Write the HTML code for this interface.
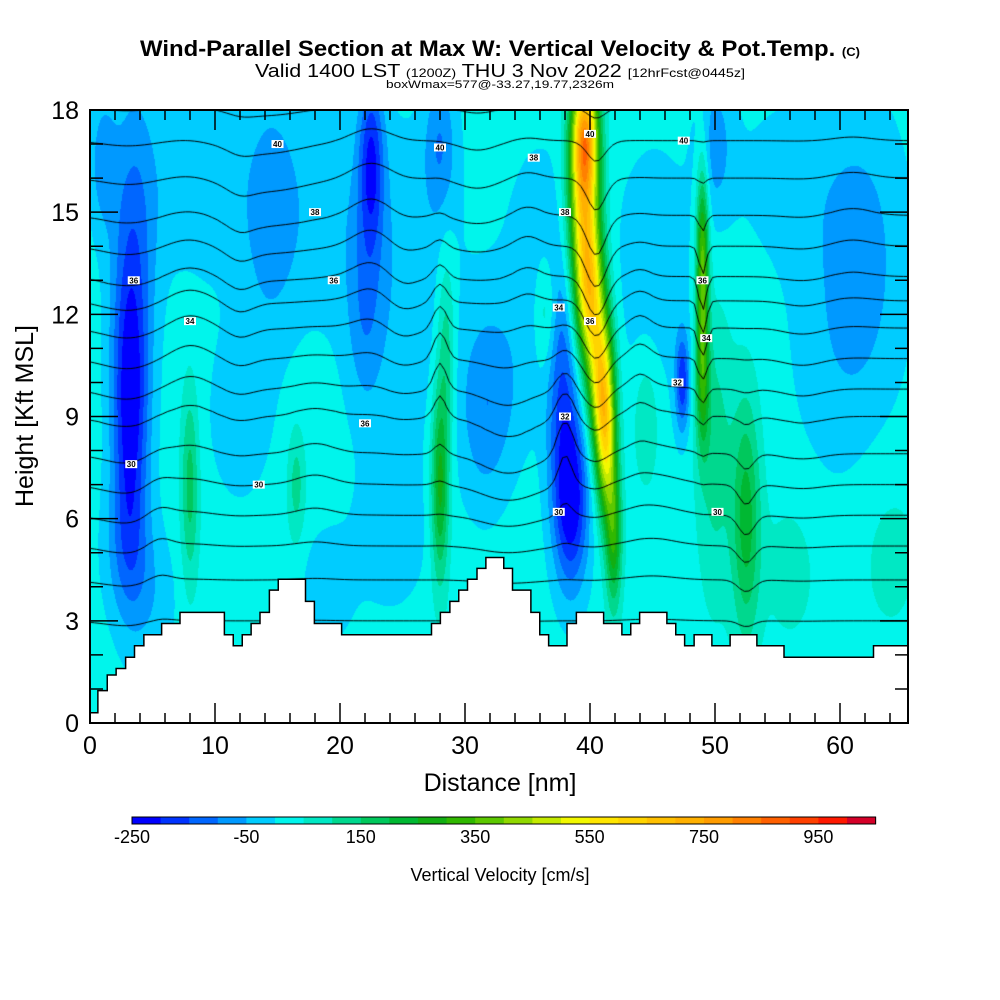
<!DOCTYPE html>
<html><head><meta charset="utf-8">
<style>
html,body{margin:0;padding:0;background:#fff;width:1000px;height:1000px;overflow:hidden;}
#wrap{position:relative;width:1000px;height:1000px;}
canvas,svg{position:absolute;left:0;top:0;}
text{font-family:"Liberation Sans",sans-serif;}
</style></head>
<body>
<div id="wrap">
<canvas id="field" width="1000" height="1000"></canvas>
<svg id="ov" width="1000" height="1000">
  <text x="500" y="56" text-anchor="middle" font-size="22" font-weight="bold" textLength="720" lengthAdjust="spacingAndGlyphs">Wind-Parallel Section at Max W: Vertical Velocity &amp; Pot.Temp. <tspan font-size="12">(C)</tspan></text>
  <text x="500" y="77" text-anchor="middle" font-size="18" textLength="490" lengthAdjust="spacingAndGlyphs">Valid 1400 LST <tspan font-size="12">(1200Z)</tspan> THU 3 Nov 2022 <tspan font-size="12">[12hrFcst@0445z]</tspan></text>
  <text x="500" y="88" text-anchor="middle" font-size="11" textLength="228" lengthAdjust="spacingAndGlyphs">boxWmax=577@-33.27,19.77,2326m</text>
  <g id="axes"></g>
  <text x="500" y="791" text-anchor="middle" font-size="25">Distance [nm]</text>
  <text transform="translate(33,416) rotate(-90)" text-anchor="middle" font-size="25">Height [Kft MSL]</text>
  <g id="cbar"></g>
  <text x="500" y="881" text-anchor="middle" font-size="18">Vertical Velocity [cm/s]</text>
</svg>
</div>
<script>
// ---- data ----
const colorBins = ["#0000ff","#0033ff","#0066ff","#0099ff","#00ccff","#00f5ec","#00e8c4","#00d88e","#00c85c","#00b832","#12ae12","#30b800","#5cc800","#90d800","#c4ea00","#f2f800","#ffe600","#ffd400","#ffc000","#ffb000","#ff9c00","#ff8000","#ff6000","#ff4000","#ff1800","#d40028"];
const cbarLabels = [-250,-50,150,350,550,750,950];
const xTicks = [0,10,20,30,40,50,60];
const yTicks = [0,3,6,9,12,15,18];
// terrain: step edges [distance nm] and heights [kft]
const terrainX = [0,0.63,1.38,2.09,2.85,3.56,4.31,5.73,7.2,10.75,11.46,12.18,12.89,13.6,14.35,15.06,17.24,17.95,20.13,27.32,28.03,28.79,29.5,30.2,30.96,31.67,33.1,33.8,35.27,35.98,36.69,38.16,38.91,41.09,42.55,43.26,43.97,46.15,46.86,47.57,48.33,49.75,51.21,53.35,55.52,62.68];
const terrainH = [0.30,0.95,1.41,1.6,1.93,2.27,2.59,2.92,3.25,2.59,2.27,2.59,2.92,3.25,3.9,4.22,3.57,2.92,2.59,2.92,3.25,3.57,3.9,4.22,4.54,4.86,4.54,3.9,3.25,2.59,2.27,2.92,3.25,2.92,2.59,2.92,3.25,2.92,2.59,2.27,2.59,2.27,2.59,2.27,1.93,2.27];
// vertical-velocity features: center x (nm), center z (kft), sx, sz, amplitude (cm/s)
const wX  = [3.2,3.5,3.0,1.0,22.5,22.0,38.5,37.8,47.4,28.0,14.5,62.0,50.0,31.5,24.0,19.0,20.0,45.0,60.0,33.0,12.0,25.0,8.0,36.0,56.0,5.0, 39.6,39.5,40.0,40.9,41.3,41.9,49.0,49.0,52.5,50.0,28.0,28.5,8.0,16.5,36.5,44.5,56.0,64.0];
const wZ  = [9.0,14.0,5.0,16.5,16.5,12.0,6.5,10.0,10.0,17.0,15.0,14.0,17.0,9.0,5.5,4.0,15.0,13.0,11.0,10.0,9.0,11.0,16.0,14.0,16.0,3.5, 17.3,15.0,12.5,10.0,8.0,5.5,13.5,10.0,6.0,8.0,7.0,11.0,7.0,7.0,12.0,9.0,4.5,5.0];
const wSX = [1.0,1.3,1.4,0.8,0.7,1.0,1.0,0.9,0.4,0.9,1.5,2.5,1.0,1.4,2.0,1.5,6.0,2.5,3.0,2.0,2.0,3.0,3.0,2.0,4.0,1.5, 0.75,0.85,0.8,0.7,0.55,0.45,0.35,0.4,0.8,1.0,0.5,0.5,0.5,0.5,0.6,0.8,1.5,2.0];
const wSZ = [3.0,3.5,1.5,1.5,1.8,2.0,1.8,2.5,1.0,1.5,2.5,3.0,1.5,2.0,1.5,1.2,2.5,3.0,3.0,2.0,2.0,3.0,2.0,2.5,2.0,1.5, 1.3,1.8,1.5,1.5,1.5,1.5,2.0,1.5,2.5,3.0,2.0,2.0,2.0,1.2,1.2,1.5,1.5,2.0];
const wAmp= [-240,-120,-80,-90,-200,-80,-260,-150,-200,-110,-80,-70,-90,-80,-60,-60,-55,-55,-50,-55,-50,-45,-50,-45,-40,-50, 600,480,480,500,380,260,350,200,200,100,250,120,150,100,100,80,50,40];
// potential temperature: base isentrope heights (kft) per theta level (K)
const thetaLevels = [25,26,27,28,29,30,31,32,33,34,35,36,37,38,39,40,41];
const thetaBaseZ  = [3.0,4.2,5.2,6.1,7.0,7.9,9.0,9.8,10.7,11.6,12.4,13.1,14.0,14.9,16.0,17.1,18.1];
// isentrope displacement features: x, z, sx, sz, dz (kft)
const dX  = [40.5,49.0,28.0,38.0,3.0,22.5,33.5,8.0,14.0,45.0,52.5,18.0,12.0,25.0,31.0,44.0,57.0,61.0,35.0,5.5];
const dZ  = [13.0,12.0,11.0,8.5,10.0,15.0,8.0,11.0,16.0,7.0,6.0,8.0,13.0,12.0,16.0,11.0,10.0,15.0,14.0,6.0];
const dSX = [0.8,0.3,0.5,0.6,2.0,1.5,2.0,1.5,3.0,2.0,0.6,1.5,1.0,1.2,1.5,0.8,1.5,1.5,1.0,1.0];
const dSZ = [3.0,2.0,2.0,1.5,6.0,3.0,2.0,3.0,2.0,2.0,2.0,2.0,3.0,2.0,2.0,2.0,3.0,2.0,2.0,2.0];
const dDZ = [-1.2,-1.0,0.8,1.0,-0.3,0.5,-0.6,0.4,-0.4,0.3,-0.6,0.3,-0.3,-0.3,-0.3,0.4,-0.2,0.2,0.3,0.3];
// contour labels
const labX = [3.5,8,3.3,13.5,19.5,18,22,38,40,37.5,40,38,37.5,47,49,49.3,47.5,50.2,15,28,35.5];
const labZ = [13,11.8,7.6,7,13,15,8.8,15,17.3,12.2,11.8,9,6.2,10,13,11.3,17.1,6.2,17,16.9,16.6];
const labT = ["36","34","30","30","36","38","36","38","40","34","36","32","30","32","36","34","40","30","40","40","38"];

// ---- axes ----
const X0=90,X1=908,Y0=723,Y1=110,XMAX=65.44,YMAX=18;
const sx = d => X0 + d/XMAX*(X1-X0);
const sy = z => Y0 - z/YMAX*(Y0-Y1);
const NS="http://www.w3.org/2000/svg";
function mk(tag, attrs, parent){const e=document.createElementNS(NS,tag);for(const k in attrs)e.setAttribute(k,attrs[k]);parent.appendChild(e);return e;}

// ---- field ----
const cv=document.getElementById('field'), ctx=cv.getContext('2d');
const W=X1-X0, H=Y0-Y1;
const img=ctx.createImageData(W,H);
const rgb=colorBins.map(c=>[parseInt(c.slice(1,3),16),parseInt(c.slice(3,5),16),parseInt(c.slice(5,7),16)]);
function wval(d,z){let v=25;for(let i=0;i<wX.length;i++){const a=(d-wX[i])/wSX[i],b=(z-wZ[i])/wSZ[i];const q=a*a+b*b;if(q<30)v+=wAmp[i]*Math.exp(-q/2);}return v;}
for(let py=0;py<H;py++){const z=(Y0-(Y1+py+0.5))/(Y0-Y1)*YMAX;
 for(let px=0;px<W;px++){const d=(px+0.5)/W*XMAX;const v=wval(d,z);
  let b=Math.floor((v+250)/50);b=Math.max(0,Math.min(25,b));const c=rgb[b];const o=(py*W+px)*4;
  img.data[o]=c[0];img.data[o+1]=c[1];img.data[o+2]=c[2];img.data[o+3]=255;}}
ctx.putImageData(img,X0,Y1);

// ---- theta contours (marching squares) ----
function thetaAt(d,z){let dz=0;for(let i=0;i<dX.length;i++){const a=(d-dX[i])/dSX[i],b=(z-dZ[i])/dSZ[i];dz+=dDZ[i]*Math.exp(-(a*a+b*b)/2);}
 const ze=z-dz;const L=thetaLevels,B=thetaBaseZ;
 if(ze<=B[0])return L[0]-(B[0]-ze)/1.0;
 for(let i=0;i<B.length-1;i++){if(ze<=B[i+1])return L[i]+(ze-B[i])/(B[i+1]-B[i]);}
 return L[L.length-1]+(ze-B[B.length-1]);}
const NX=180,NZ=120;const grid=[];
for(let j=0;j<=NZ;j++){grid.push([]);for(let i=0;i<=NX;i++)grid[j].push(thetaAt(i/NX*XMAX,j/NZ*YMAX));}
ctx.save();ctx.beginPath();ctx.rect(X0,Y1,W,H);ctx.clip();
ctx.strokeStyle="#000";ctx.lineWidth=1;ctx.beginPath();
for(const lev of thetaLevels){
 for(let j=0;j<NZ;j++)for(let i=0;i<NX;i++){
  const v=[grid[j][i],grid[j][i+1],grid[j+1][i+1],grid[j+1][i]];
  const p=[[i,j],[i+1,j],[i+1,j+1],[i,j+1]];const pts=[];
  for(let k=0;k<4;k++){const a=v[k],b=v[(k+1)%4];if((a<lev)!==(b<lev)){const t=(lev-a)/(b-a);const pa=p[k],pb=p[(k+1)%4];
   pts.push([sx((pa[0]+t*(pb[0]-pa[0]))/NX*XMAX),sy((pa[1]+t*(pb[1]-pa[1]))/NZ*YMAX)]);}}
  if(pts.length>=2){ctx.moveTo(pts[0][0],pts[0][1]);ctx.lineTo(pts[1][0],pts[1][1]);}
  if(pts.length===4){ctx.moveTo(pts[2][0],pts[2][1]);ctx.lineTo(pts[3][0],pts[3][1]);}
 }}
ctx.stroke();ctx.restore();

// ---- overlay ----
const ax=document.getElementById('axes');
let tp=`M${sx(0)},${Y0} `;
for(let i=0;i<terrainX.length;i++){const xe=i+1<terrainX.length?terrainX[i+1]:XMAX;tp+=`L${sx(terrainX[i])},${sy(terrainH[i])} L${sx(xe)},${sy(terrainH[i])} `;}
tp+=`L${sx(XMAX)},${Y0} Z`;
const terr=mk('path',{d:tp,fill:'#fff',stroke:'#000','stroke-width':1.5},ax);


for(let i=0;i<labX.length;i++){
 const g=mk('g',{},ax);
 
 
 mk('rect',{x:sx(labX[i])-6,y:sy(labZ[i])-4,width:12,height:8,fill:'#fff'},g);
 mk('text',{x:sx(labX[i]),y:sy(labZ[i])+3,'text-anchor':'middle','font-size':8,'font-weight':'bold'},g).textContent=labT[i];
}
const fr=mk('rect',{x:X0,y:Y1,width:W,height:H,fill:'none',stroke:'#000','stroke-width':2},ax);


let tk='';
for(let z=0;z<=18;z++){const L=z%3===0?28:13;const y=sy(z);tk+=`M${X0},${y}h${L}M${X1},${y}h${-L}`;}
for(let d=0;d<=64;d+=2){const L=d%10===0?20:10;const x=sx(d);tk+=`M${x},${Y0}v${-L}M${x},${Y1}v${L}`;}
const tkp=mk('path',{d:tk,stroke:'#000','stroke-width':1.5,fill:'none'},ax);


for(const z of yTicks){const t=mk('text',{x:79,y:sy(z)+9,'text-anchor':'end','font-size':25},ax);t.textContent=z;
 
 }
for(const d of xTicks){const t=mk('text',{x:sx(d),y:754,'text-anchor':'middle','font-size':25},ax);t.textContent=d;
 
 }
const cb=document.getElementById('cbar');
const CB0=132,CBW=28.6;
const cbv=v=>CB0+(v+250)/50*CBW;
for(let i=0;i<colorBins.length;i++){const r=mk('rect',{x:CB0+i*CBW,y:817,width:CBW+0.5,height:7,fill:colorBins[i]},cb);
 
 }
mk('rect',{x:CB0,y:817,width:colorBins.length*CBW,height:7,fill:'none',stroke:'#000','stroke-width':1},cb);
for(const v of cbarLabels){const t=mk('text',{x:cbv(v),y:843,'text-anchor':'middle','font-size':18},cb);t.textContent=v;
 
 }
</script>
</body></html>
